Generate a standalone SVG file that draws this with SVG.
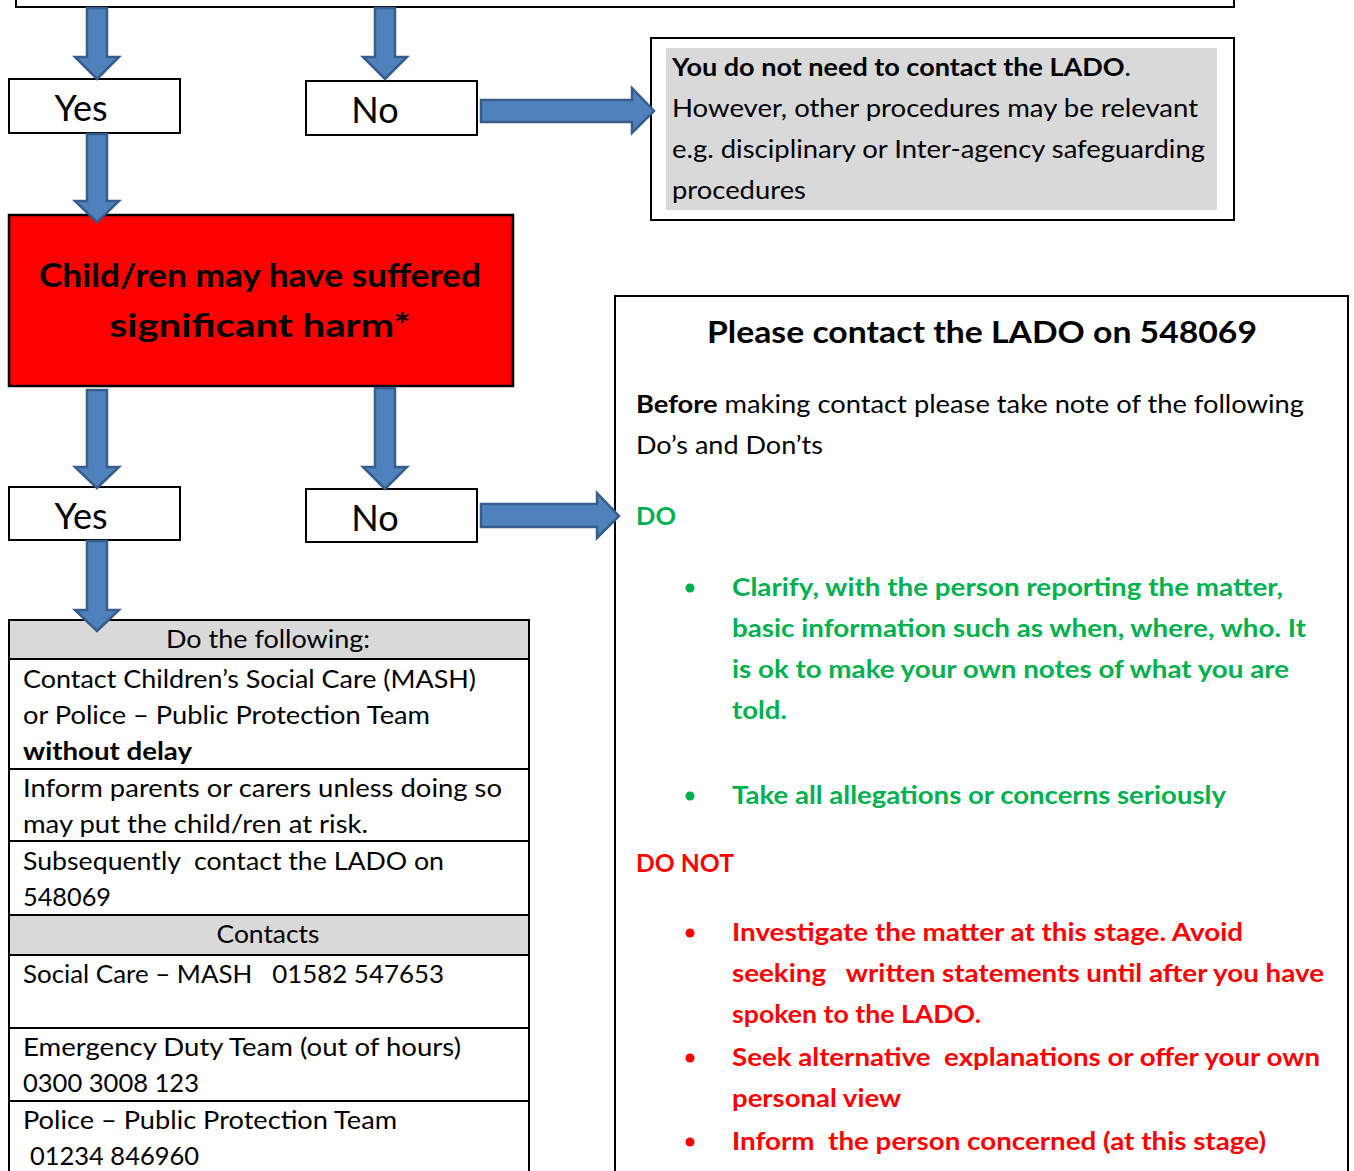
<svg xmlns="http://www.w3.org/2000/svg" width="1354" height="1171" viewBox="0 0 1354 1171">
<style>
text{font-family:Lato,"Open Sans","Liberation Sans",sans-serif;fill:#000}
.box{fill:#fff;stroke:#000;stroke-width:2}
.yn{font-size:36px}
.t{font-size:25px}
.b{font-weight:bold}
.g{fill:#00B050;font-weight:bold;font-size:25px}
.r{fill:#FF0000;font-weight:bold;font-size:25px}
.arrow{fill:#4F81BD;stroke:#385D8A;stroke-width:2.5;stroke-linejoin:miter}
.hdr{fill:#D9D9D9}
.ln{stroke:#000;stroke-width:2}
</style>
<rect width="1354" height="1171" fill="#fff"/>
<g id="top-box"><rect class="box" x="16" y="-20" width="1218" height="27"/></g>
<g id="yes1"><rect class="box" x="9" y="79" width="171" height="54"/><text class="yn" x="81" y="121" text-anchor="middle">Yes</text></g>
<g id="no1"><rect class="box" x="306" y="81" width="171" height="54"/><text class="yn" x="375" y="123" text-anchor="middle">No</text></g>
<g id="no-lado">
<rect class="box" x="651" y="38" width="583" height="182"/>
<rect x="666" y="48" width="551" height="162" fill="#D9D9D9"/>
<text class="t" x="672" y="76" textLength="459" lengthAdjust="spacingAndGlyphs"><tspan class="b">You do not need to contact the LADO</tspan>.</text>
<text class="t" x="672" y="117" textLength="526" lengthAdjust="spacingAndGlyphs">However, other procedures may be relevant</text>
<text class="t" x="672" y="158" textLength="533" lengthAdjust="spacingAndGlyphs">e.g. disciplinary or Inter-agency safeguarding</text>
<text class="t" x="672" y="199" textLength="134" lengthAdjust="spacingAndGlyphs">procedures</text>
</g>
<g id="harm">
<rect x="9" y="215" width="504" height="171" fill="#FF0000" stroke="#000" stroke-width="2.5"/>
<text class="b" font-size="32" x="260" y="287" text-anchor="middle" textLength="442" lengthAdjust="spacingAndGlyphs">Child/ren may have suffered</text>
<text class="b" font-size="32" x="260" y="337" text-anchor="middle" textLength="301" lengthAdjust="spacingAndGlyphs">significant harm*</text>
</g>
<g id="yes2"><rect class="box" x="9" y="487" width="171" height="53"/><text class="yn" x="81" y="529" text-anchor="middle">Yes</text></g>
<g id="no2"><rect class="box" x="306" y="489" width="171" height="53"/><text class="yn" x="375" y="531" text-anchor="middle">No</text></g>
<g id="actions">
<rect x="9" y="620" width="520" height="600" fill="#fff"/>
<rect class="hdr" x="9" y="620" width="520" height="39"/>
<rect class="hdr" x="9" y="915" width="520" height="40"/>
<rect x="9" y="620" width="520" height="600" fill="none" stroke="#000" stroke-width="2"/>
<line class="ln" x1="9" y1="659" x2="529" y2="659"/>
<line class="ln" x1="9" y1="769" x2="529" y2="769"/>
<line class="ln" x1="9" y1="841" x2="529" y2="841"/>
<line class="ln" x1="9" y1="915" x2="529" y2="915"/>
<line class="ln" x1="9" y1="955" x2="529" y2="955"/>
<line class="ln" x1="9" y1="1028" x2="529" y2="1028"/>
<line class="ln" x1="9" y1="1101" x2="529" y2="1101"/>
<text class="t" x="268" y="648" text-anchor="middle" textLength="204" lengthAdjust="spacingAndGlyphs">Do the following:</text>
<text class="t" x="23" y="688" textLength="453" lengthAdjust="spacingAndGlyphs">Contact Children’s Social Care (MASH)</text>
<text class="t" x="23" y="724" textLength="407" lengthAdjust="spacingAndGlyphs">or Police – Public Protection Team</text>
<text class="t b" x="23" y="760" textLength="169" lengthAdjust="spacingAndGlyphs">without delay</text>
<text class="t" x="23" y="797" textLength="479" lengthAdjust="spacingAndGlyphs">Inform parents or carers unless doing so</text>
<text class="t" x="23" y="833" textLength="345" lengthAdjust="spacingAndGlyphs">may put the child/ren at risk.</text>
<text class="t" x="23" y="870" textLength="421" lengthAdjust="spacingAndGlyphs" xml:space="preserve">Subsequently  contact the LADO on</text>
<text class="t" x="23" y="906" textLength="88" lengthAdjust="spacingAndGlyphs">548069</text>
<text class="t" x="268" y="943" text-anchor="middle" textLength="103" lengthAdjust="spacingAndGlyphs">Contacts</text>
<text class="t" x="23" y="983" textLength="421" lengthAdjust="spacingAndGlyphs" xml:space="preserve">Social Care – MASH   01582 547653</text>
<text class="t" x="23" y="1056" textLength="438" lengthAdjust="spacingAndGlyphs">Emergency Duty Team (out of hours)</text>
<text class="t" x="23" y="1092" textLength="176" lengthAdjust="spacingAndGlyphs">0300 3008 123</text>
<text class="t" x="23" y="1129" textLength="374" lengthAdjust="spacingAndGlyphs">Police – Public Protection Team</text>
<text class="t" x="30" y="1165" textLength="169" lengthAdjust="spacingAndGlyphs">01234 846960</text>
</g>
<g id="lado">
<rect x="615" y="296" width="733" height="900" fill="#fff" stroke="#000" stroke-width="2"/>
<text class="b" font-size="30" x="982" y="343" text-anchor="middle" textLength="550" lengthAdjust="spacingAndGlyphs">Please contact the LADO on 548069</text>
<text class="t" font-size="24" x="636" y="413" textLength="668" lengthAdjust="spacingAndGlyphs"><tspan class="b">Before</tspan> making contact please take note of the following</text>
<text class="t" x="636" y="454" textLength="187" lengthAdjust="spacingAndGlyphs">Do’s and Don’ts</text>
<text class="g" x="636" y="525" textLength="40" lengthAdjust="spacingAndGlyphs">DO</text>
<circle cx="690" cy="588" r="4.5" fill="#00B050"/>
<text class="g" x="732" y="596" textLength="551" lengthAdjust="spacingAndGlyphs">Clarify, with the person reporting the matter,</text>
<text class="g" x="732" y="637" textLength="574" lengthAdjust="spacingAndGlyphs">basic information such as when, where, who. It</text>
<text class="g" x="732" y="678" textLength="557" lengthAdjust="spacingAndGlyphs">is ok to make your own notes of what you are</text>
<text class="g" x="732" y="719" textLength="55" lengthAdjust="spacingAndGlyphs">told.</text>
<circle cx="690" cy="796" r="4.5" fill="#00B050"/>
<text class="g" x="732" y="804" textLength="494" lengthAdjust="spacingAndGlyphs">Take all allegations or concerns seriously</text>
<text class="r" x="636" y="872" textLength="98" lengthAdjust="spacingAndGlyphs">DO NOT</text>
<circle cx="690" cy="933" r="4.5" fill="#FF0000"/>
<text class="r" x="732" y="941" textLength="511" lengthAdjust="spacingAndGlyphs">Investigate the matter at this stage. Avoid</text>
<text class="r" x="732" y="982" textLength="592" lengthAdjust="spacingAndGlyphs" xml:space="preserve">seeking   written statements until after you have</text>
<text class="r" x="732" y="1023" textLength="249" lengthAdjust="spacingAndGlyphs">spoken to the LADO.</text>
<circle cx="690" cy="1058" r="4.5" fill="#FF0000"/>
<text class="r" x="732" y="1066" textLength="588" lengthAdjust="spacingAndGlyphs" xml:space="preserve">Seek alternative  explanations or offer your own</text>
<text class="r" x="732" y="1107" textLength="169" lengthAdjust="spacingAndGlyphs">personal view</text>
<circle cx="690" cy="1142" r="4.5" fill="#FF0000"/>
<text class="r" x="732" y="1150" textLength="534" lengthAdjust="spacingAndGlyphs" xml:space="preserve">Inform  the person concerned (at this stage)</text>
</g>
<g id="connectors">
<polygon class="arrow" points="87,8 107,8 107,57 119,57 97,79 75,57 87,57"/>
<polygon class="arrow" points="375,8 395,8 395,57 407,57 385,79 363,57 375,57"/>
<polygon class="arrow" points="87,134 107,134 107,201 119,201 97,222 75,201 87,201"/>
<polygon class="arrow" points="87,390 107,390 107,467 119,467 97,488 75,467 87,467"/>
<polygon class="arrow" points="375,388 395,388 395,467 407,467 385,489 363,467 375,467"/>
<polygon class="arrow" points="87,541 107,541 107,610 119,610 97,631 75,610 87,610"/>
<polygon class="arrow" points="481,100 632,100 632,88 654,111 632,133 632,122 481,122"/>
<polygon class="arrow" points="481,504 597,504 597,493 619,516 597,538 597,527 481,527"/>
</g>
</svg>
